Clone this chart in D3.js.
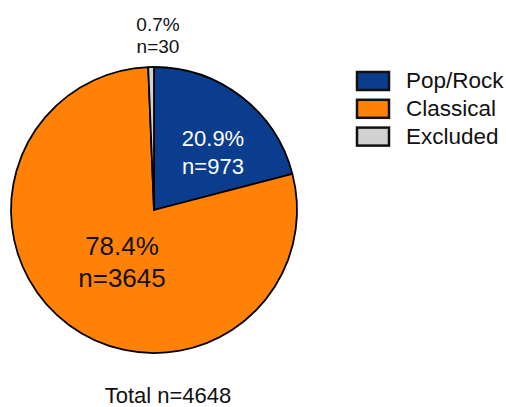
<!DOCTYPE html>
<html><head><meta charset="utf-8">
<script src="https://cdn.jsdelivr.net/npm/d3@7"></script>
<style>body{margin:0;background:#fff}svg{display:block}text{font-family:"Liberation Sans",Arial,sans-serif}</style>
</head><body>
<svg id="c" width="506" height="407"></svg>
<script>
const categories = ["Pop/Rock", "Classical", "Excluded"];
const counts = [973, 3645, 30];
const percents = ["20.9%", "78.4%", "0.7%"];
const colors = ["#0b3d8e", "#ff8206", "#d2d2d2"];
const total = 4648;

const svg = d3.select("#c");
const cx = 154, cy = 210, r = 143;
const pie = d3.pie().sort(null).value(d => d)(counts);
const arc = d3.arc().innerRadius(0).outerRadius(r);
const g = svg.append("g").attr("transform", `translate(${cx},${cy})`);
g.selectAll("path").data(pie).enter().append("path")
  .attr("d", arc).attr("fill", (d, i) => colors[i])
  .attr("stroke", "#000").attr("stroke-width", 1.8).attr("stroke-linejoin", "round");

// labels
const labelPos = [
  {x: 213, y: 146, dy: 28, size: 22, fill: "#fff"},
  {x: 122, y: 255, dy: 32, size: 26, fill: "#111"},
  {x: 158, y: 31, dy: 22, size: 19, fill: "#111"}
];
pie.forEach((d, i) => {
  const p = labelPos[i];
  const t = svg.append("text").attr("text-anchor", "middle")
    .attr("font-size", p.size).attr("fill", p.fill);
  t.append("tspan").attr("x", p.x).attr("y", p.y).text(percents[i]);
  t.append("tspan").attr("x", p.x).attr("y", p.y + p.dy).text("n=" + counts[i]);
});

svg.append("text").attr("x", 168).attr("y", 403).attr("text-anchor", "middle")
  .attr("font-size", 22).attr("fill", "#111").text("Total n=" + total);

// legend
const lg = svg.append("g").attr("transform", "translate(357,72)");
categories.forEach((c, i) => {
  const row = lg.append("g").attr("transform", `translate(0,${i * 27.8})`);
  row.append("rect").attr("width", 32).attr("height", 18)
    .attr("fill", colors[i]).attr("stroke", "#111").attr("stroke-width", 2.5);
  row.append("text").attr("x", 49).attr("y", 16).attr("font-size", 22.5)
    .attr("fill", "#111").text(c);
});
</script>
</body></html>
